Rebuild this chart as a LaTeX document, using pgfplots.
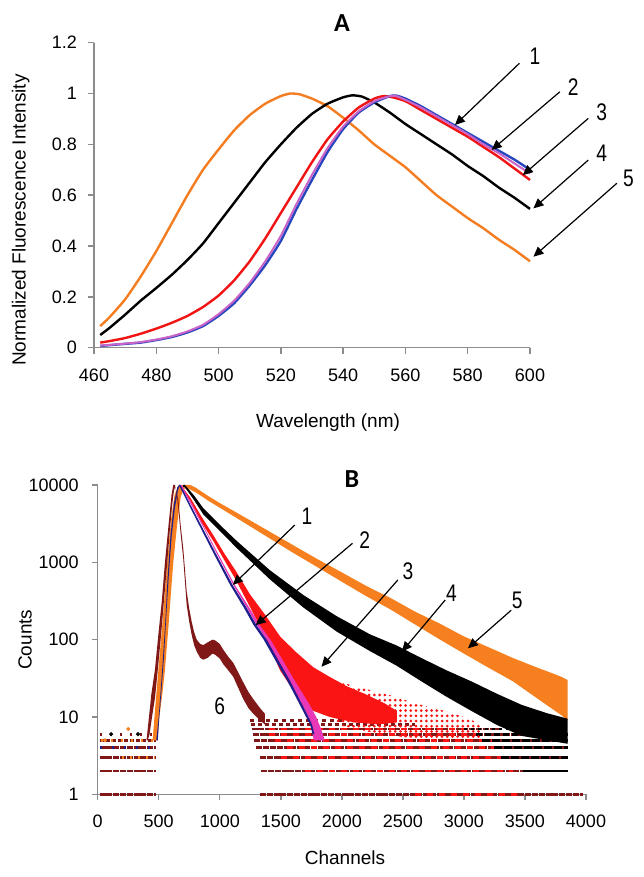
\documentclass[border=0pt]{standalone}
\usepackage{pgfplots}
\pgfplotsset{compat=1.18}
\usepackage{fontspec}
\setmainfont{Liberation Sans}
\newfontfamily\titlefont{Carlito}
\newfontfamily\narrowfont[FakeStretch=0.8]{Liberation Sans}
\usetikzlibrary{arrows.meta,patterns.meta}
\definecolor{axgray}{RGB}{140,140,140}
\definecolor{cOrange}{RGB}{243,125,32}
\definecolor{cRed}{RGB}{240,20,20}
\definecolor{cBlue}{RGB}{40,70,190}
\definecolor{cPink}{RGB}{200,100,200}
\definecolor{bOrange}{RGB}{246,128,32}
\definecolor{bRed}{RGB}{250,20,20}
\definecolor{bPink}{RGB}{232,56,184}
\definecolor{bBlue}{RGB}{30,30,140}
\definecolor{bDark}{RGB}{128,24,24}
\pgfplotsset{
  myaxis/.style={
    scale only axis, clip=false,
    axis lines=left, axis line style={-, draw=axgray, line width=0.7pt},
    tick align=outside, major tick length=3pt,
    tick style={draw=axgray, line width=0.7pt},
    tick label style={font=\fontsize{9}{10}\selectfont, text=black},
    xticklabel style={yshift=-4pt},
    /pgf/number format/assume math mode=true,
  },
}
\tikzset{
  lab/.style={font=\narrowfont\fontsize{12}{12}\selectfont},
  arr/.style={-{Triangle[length=5pt,width=4.5pt]}, line width=0.6pt, black},
}
\begin{document}
\begin{tikzpicture}[x=1pt,y=1pt]
\useasboundingbox (0pt,0pt) rectangle (321.5pt,438.5pt);
% ---------------- Panel A ----------------
\begin{axis}[myaxis,
  at={(47pt,264.65pt)}, anchor=south west,
  width=218pt, height=152.5pt,
  xmin=460, xmax=600, ymin=0, ymax=1.2,
  xtick={460,480,500,520,540,560,580,600},
  ytick={0,0.2,0.4,0.6,0.8,1,1.2},
  yticklabel style={xshift=-2pt},
]
% 5 orange
\addplot[cOrange, line width=1.2pt, smooth, tension=0.3] coordinates {
(462,0.085)(465,0.12)(470,0.19)(475,0.28)(480,0.38)(485,0.49)(490,0.60)(495,0.70)(500,0.78)(505,0.855)(510,0.915)(515,0.96)(520,0.99)(523,1.0)(526,0.997)(530,0.98)(535,0.95)(540,0.905)(545,0.855)(550,0.80)(555,0.755)(560,0.71)(565,0.655)(570,0.60)(575,0.555)(580,0.51)(585,0.47)(590,0.425)(595,0.385)(600,0.34)};
% 4 black
\addplot[black, line width=1.2pt, smooth, tension=0.3] coordinates {
(462,0.05)(465,0.078)(470,0.13)(475,0.185)(480,0.235)(485,0.287)(490,0.345)(495,0.41)(500,0.49)(505,0.57)(510,0.65)(515,0.73)(520,0.80)(525,0.865)(530,0.92)(535,0.96)(540,0.985)(543,0.993)(546,0.988)(550,0.965)(555,0.925)(560,0.88)(565,0.84)(570,0.80)(575,0.76)(580,0.715)(585,0.675)(590,0.63)(595,0.59)(600,0.546)};
% 3 red
\addplot[cRed, line width=1.2pt, smooth, tension=0.3] coordinates {
(462,0.02)(465,0.026)(470,0.038)(475,0.055)(480,0.075)(485,0.098)(490,0.125)(495,0.16)(500,0.205)(505,0.265)(510,0.34)(515,0.43)(520,0.53)(525,0.63)(530,0.73)(535,0.82)(540,0.89)(545,0.945)(550,0.98)(553,0.99)(556,0.985)(560,0.97)(565,0.935)(570,0.90)(575,0.865)(580,0.83)(585,0.79)(590,0.75)(595,0.705)(600,0.66)};
% 1 blue
\addplot[cBlue, line width=1.2pt, smooth, tension=0.3] coordinates {
(462,0.007)(465,0.01)(470,0.015)(475,0.02)(480,0.03)(485,0.042)(490,0.06)(495,0.085)(500,0.125)(505,0.175)(510,0.245)(515,0.325)(520,0.42)(525,0.545)(530,0.66)(535,0.77)(540,0.86)(545,0.925)(550,0.965)(555,0.99)(557,0.992)(560,0.98)(565,0.95)(570,0.915)(575,0.88)(580,0.845)(585,0.81)(590,0.775)(595,0.74)(600,0.70)};
% 2 pink
\addplot[cPink, line width=1.0pt, smooth, tension=0.3] coordinates {
(462,0.008)(465,0.011)(470,0.016)(475,0.022)(480,0.032)(485,0.045)(490,0.064)(495,0.09)(500,0.132)(505,0.185)(510,0.255)(515,0.34)(520,0.44)(525,0.565)(530,0.68)(535,0.785)(540,0.87)(545,0.93)(550,0.97)(555,0.99)(557,0.99)(560,0.975)(565,0.945)(570,0.91)(575,0.875)(580,0.84)(585,0.80)(590,0.765)(595,0.725)(600,0.685)};
% annotations
\node[lab] at (axis cs:601.6,1.145) {1};
\draw[arr] (axis cs:596.6,1.119) -- (axis cs:575.9,0.876);
\node[lab] at (axis cs:613.9,1.027) {2};
\draw[arr] (axis cs:609.6,1.007) -- (axis cs:587.7,0.778);
\node[lab] at (axis cs:623.0,0.928) {3};
\draw[arr] (axis cs:618.7,0.902) -- (axis cs:597.7,0.679);
\node[lab] at (axis cs:623.0,0.765) {4};
\draw[arr] (axis cs:618.7,0.738) -- (axis cs:601.1,0.548);
\node[lab] at (axis cs:631.6,0.666) {5};
\draw[arr] (axis cs:627.9,0.647) -- (axis cs:601.1,0.358);
\end{axis}
\node[font=\titlefont\bfseries\fontsize{13}{13}\selectfont] at (171pt,427pt) {A};
\node[font=\fontsize{9.5}{10}\selectfont] at (164pt,227pt) {Wavelength (nm)};
\node[font=\fontsize{9.5}{10}\selectfont, rotate=90] at (10.3pt,328.5pt) {Normalized Fluorescence Intensity};
% ---------------- Panel B ----------------
\begin{axis}[myaxis,
  at={(48.85pt,41.35pt)}, anchor=south west,
  width=244.15pt, height=154.65pt,
  xmin=0, xmax=4000, ymin=1, ymax=10000, ymode=log,
  xtick={0,500,1000,1500,2000,2500,3000,3500,4000},
  ytick={1,10,100,1000,10000},
  yticklabels={1,10,100,1000,10000},
  yticklabel style={xshift=-3pt},
  yminorticks=false,
  x tick label style={/pgf/number format/1000 sep={}},
]
% floor rows (dark red)
\pgfplotsset{row/.style={bDark, line width=1.4pt, dash pattern=on 3pt off 0.4pt}}
\addplot[row] coordinates {(15,1)(480,1)};
\addplot[row] coordinates {(15,2)(480,2)};
\addplot[row] coordinates {(15,3)(480,3)};
\addplot[row] coordinates {(15,4)(480,4)};
\addplot[row, dash pattern=on 2pt off 1pt] coordinates {(15,5)(480,5)};
\addplot[row, dash pattern=on 1pt off 4pt] coordinates {(20,6)(480,6)};
\addplot[row] coordinates {(1330,1)(3975,1)};
\addplot[row] coordinates {(1340,2)(3850,2)};
\addplot[row] coordinates {(1330,3)(3850,3)};
\addplot[row] coordinates {(1300,4)(3850,4)};
\addplot[row] coordinates {(1280,5)(3850,5)};
\addplot[row] coordinates {(1270,6)(3850,6)};
\addplot[row] coordinates {(1260,7)(3300,7)};
\addplot[row, dash pattern=on 2pt off 1.5pt] coordinates {(1255,8)(2600,8)};
\addplot[row, dash pattern=on 2pt off 2pt] coordinates {(1250,9)(2000,9)};
% red / black / orange overlays on the rows
\pgfplotsset{rowo/.style={line width=1.4pt, dash pattern=on 3pt off 3pt}}
\addplot[rowo, bRed] coordinates {(1500,3)(3300,3)};
\addplot[rowo, bRed] coordinates {(1550,4)(3300,4)};
\addplot[rowo, bRed] coordinates {(1450,5)(3250,5)};
\addplot[rowo, bRed] coordinates {(1400,6)(3200,6)};
\addplot[rowo, bRed] coordinates {(1400,7)(3000,7)};
\addplot[rowo, bRed] coordinates {(1700,2)(3400,2)};
\addplot[rowo, bRed] coordinates {(2600,1)(3450,1)};
\addplot[black, line width=1.4pt] coordinates {(3480,2)(3850,2)};
\addplot[black, line width=1.4pt, dash pattern=on 4pt off 1pt] coordinates {(3300,3)(3850,3)};
\addplot[black, line width=1.4pt, dash pattern=on 4pt off 1pt] coordinates {(3250,4)(3850,4)};
\addplot[black, line width=1.4pt, dash pattern=on 4pt off 1pt] coordinates {(3150,5)(3850,5)};
\addplot[black, line width=1.4pt, dash pattern=on 3pt off 1.5pt] coordinates {(3100,6)(3850,6)};
\addplot[black, line width=1.4pt, dash pattern=on 1.5pt off 2pt] coordinates {(3000,7)(3600,7)};
\addplot[rowo, bOrange, dash pattern=on 1pt off 3pt] coordinates {(200,3)(470,3)};
\addplot[rowo, bOrange, dash pattern=on 1pt off 4pt] coordinates {(30,5)(470,5)};
\addplot[rowo, bBlue, dash pattern=on 1pt off 5pt] coordinates {(20,4)(470,4)};
% 5 orange band
\addplot[fill=bOrange, draw=none] coordinates {
(450,5)(465,10)(490,30)(510,70)(530,160)(550,400)(570,1000)(600,3500)(630,7500)(660,9800)(700,10000)(760,10000)(800,9300)(900,7290)(1000,5840)(1200,3860)(1400,2540)(1600,1670)(1800,1100)(2000,740)(2200,495)(2400,345)(2600,230)(2800,162)(3000,110)(3200,80)(3400,58)(3600,43.5)(3700,38)(3800,33)(3850,30)
(3850,9)(3800,10.5)(3700,13.5)(3600,17.4)(3400,29)(3200,43.5)(3000,66)(2800,101)(2600,157)(2400,245)(2200,365)(2000,560)(1800,865)(1600,1330)(1400,2080)(1200,3260)(1000,5080)(900,6340)(800,8100)(740,9000)(705,9000)(680,7000)(650,3000)(619,1000)(600,400)(580,150)(551,41)(530,20)(505,10)(490,5)} -- cycle;
% 1 blue rise
\addplot[fill=bBlue, draw=none] coordinates {
(480,5)(500,10)(528,40)(552,150)(572,600)(596,2200)(625,5800)(652,9300)(668,10000)(674,10000)(657,8500)(632,5000)(606,2200)(583,700)(563,220)(543,60)(520,20)(505,10)(492,5)} -- cycle;
% 4 black band
\addplot[fill=black, draw=none] coordinates {
(700,10000)(715,10000)(790,7290)(865,5010)(1002,3040)(1139,1890)(1411,790)(1684,378)(1958,201)(2231,117)(2449,84)(2650,58)(2859,40)(3060,28.9)(3269,20)(3470,14.4)(3679,11.2)(3850,9.5)
(3850,4.5)(3679,5)(3470,5.7)(3269,7.9)(3060,12)(2859,18.2)(2650,29)(2449,46)(2231,71)(1958,127)(1684,261)(1411,601)(1139,1530)(1002,2530)(865,4170)(790,6340)(715,9300)(700,9500)} -- cycle;
% 3 red band (dense part)
\addplot[fill=bRed, draw=none] coordinates {
(680,10000)(760,6800)(850,3900)(950,2200)(1040,1280)(1130,780)(1250,380)(1371,210)(1494,110)(1620,70)(1766,44)(1900,33)(2040,25)(2200,19.5)(2350,15)(2450,12)
(2450,8.5)(2300,8)(2100,8.5)(1900,10)(1766,12)(1620,20)(1494,40)(1371,110)(1250,260)(1130,600)(1040,1050)(950,1850)(850,3300)(760,6200)(680,9500)} -- cycle;
% 3 red band (sparse tail)
\addplot[pattern={Dots[radius=0.75pt,distance=2.6pt]}, pattern color=bRed, draw=none] coordinates {
(1950,30)(2100,25)(2250,22)(2400,19)(2600,15)(2800,12.5)(3000,10)(3150,8)(3150,5)(2800,5)(2500,5.5)(2200,6.5)(1950,8)} -- cycle;
% 2 pink band
\addplot[fill=bPink, draw=none] coordinates {
(675,10000)(770,5400)(875,2650)(975,1300)(1110,513)(1225,255)(1300,156)(1385,100)(1475,56)(1572,30)(1650,17)(1700,12)(1740,9)(1760,6)(1770,5)
(1860,5)(1830,7)(1790,10)(1740,14)(1680,20)(1600,32)(1510,56)(1415,100)(1325,156)(1245,255)(1122,513)(985,1300)(882,2650)(780,5400)(688,10000)} -- cycle;
% 1 blue band
\addplot[fill=bBlue, draw=none] coordinates {
(665,10000)(750,5400)(850,2650)(950,1300)(1084,513)(1200,255)(1275,156)(1360,100)(1450,56)(1550,30)(1650,15)(1700,10.5)(1740,8)(1760,6)
(1775,6)(1755,8)(1720,10.5)(1670,15)(1572,30)(1474,56)(1384,100)(1298,156)(1222,255)(1104,513)(968,1300)(866,2650)(764,5400)(678,10000)} -- cycle;
% 6 dark red band
\addplot[fill=bDark, draw=none] coordinates {
(400,5)(420,10)(440,20)(469,41)(500,130)(524,300)(551,1000)(580,3000)(605,7500)(619,10000)(632,10000)(660,6500)(680,3000)(701,1500)(715,800)(729,420)(750,250)(770,170)(790,125)(811,100)(840,88)(865,85)(900,92)(940,100)(961,98)(1000,88)(1029,74)(1070,60)(1111,50)(1150,38)(1193,28)(1235,21)(1275,17)(1330,13)(1370,11)
(1370,8)(1330,9)(1275,11)(1235,13)(1193,17)(1150,24)(1111,33)(1070,40)(1029,48)(1000,57)(961,64)(940,66)(900,58)(865,55)(840,58)(811,70)(790,85)(770,115)(750,170)(729,280)(715,560)(701,1100)(680,2300)(660,5000)(645,8000)(635,9500)(625,8500)(610,5500)(590,2500)(570,1000)(545,350)(520,120)(495,45)(470,18)(445,10)(425,6)(410,5)} -- cycle;
% a few stray points
\addplot[only marks, mark=*, mark size=0.8pt, black] coordinates {(110,6)(330,6)};
\addplot[only marks, mark=*, mark size=0.8pt, bOrange] coordinates {(250,7)(60,5)};
% annotations
\node[lab] at (axis cs:1715,3890) {1};
\draw[arr] (axis cs:1614,3030) -- (axis cs:1107,510);
\node[lab] at (axis cs:2188,1945) {2};
\draw[arr] (axis cs:2087,1760) -- (axis cs:1294,154);
\node[lab] at (axis cs:2542,757) {3};
\draw[arr] (axis cs:2459,592) -- (axis cs:1833,44.6);
\node[lab] at (axis cs:2897,398) {4};
\draw[arr] (axis cs:2847,326) -- (axis cs:2492,70);
\node[lab] at (axis cs:3437,325) {5};
\draw[arr] (axis cs:3387,240) -- (axis cs:3033,77.4);
\node[lab] at (axis cs:1000,13.6) {6};
\end{axis}
\node[font=\titlefont\bfseries\fontsize{13}{13}\selectfont] at (176pt,199pt) {B};
\node[font=\fontsize{9.5}{10}\selectfont] at (172.5pt,9.5pt) {Channels};
\node[font=\fontsize{9.5}{10}\selectfont, rotate=90] at (12.5pt,118.65pt) {Counts};
\end{tikzpicture}
\end{document}
